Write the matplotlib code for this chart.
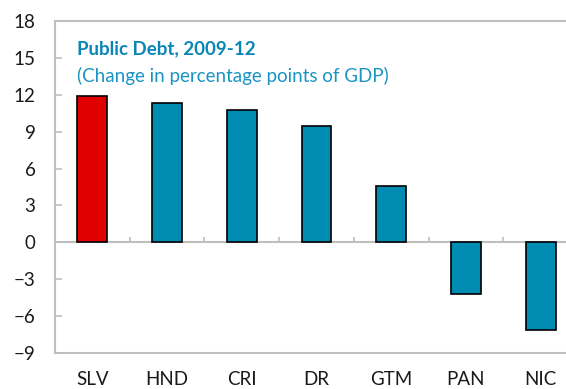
import numpy as np
import matplotlib
matplotlib.use("Agg")
import matplotlib.pyplot as plt

# Public debt change 2009-12, percentage points of GDP
countries = ["SLV", "HND", "CRI", "DR", "GTM", "PAN", "NIC"]
debt_change = [11.9, 11.3, 10.75, 9.5, 4.6, -4.2, -7.15]
highlight = "SLV"

plt.rcParams['font.family'] = ['Lato', 'DejaVu Sans']

teal = '#008BB2'
red = '#E00000'
grey = '#BFBFBF'

fig = plt.figure(figsize=(5.66, 3.89), dpi=100)
ax = fig.add_axes([0.0972, 0.0925, 0.9028, 0.8535])

x = np.arange(len(countries))
colors = [red if c == highlight else teal for c in countries]
ax.bar(x, debt_change, width=0.4, color=colors, edgecolor='black', linewidth=1.2, zorder=3)

ax.set_ylim(-9, 18)
ax.set_yticks(np.arange(-9, 19, 3))
ax.set_xlim(-0.5, 6.34)
ax.set_xticks(x)
ax.set_xticklabels(countries)

# zero line with category separators
ax.axhline(0, color=grey, lw=1.5, zorder=2)
ax.vlines(x[:-1] + 0.5, 0, 0.4, color=grey, lw=1.2, zorder=2)

for s in ['left', 'top', 'bottom']:
    ax.spines[s].set_color(grey)
    ax.spines[s].set_linewidth(1.5)
ax.spines['right'].set_visible(False)

ax.tick_params(axis='y', direction='in', length=5, width=1.2, color=grey,
               labelsize=13.5, pad=14, labelcolor='#1a1a1a')
ax.tick_params(axis='x', length=0, labelsize=13.5, pad=13, labelcolor='#1a1a1a')

ax.text(0.043, 0.915, "Public Debt, 2009-12", transform=ax.transAxes,
        color='#0A86B6', fontsize=13.5, fontweight='bold', va='center')
ax.text(0.043, 0.833, "(Change in percentage points of GDP)", transform=ax.transAxes,
        color='#1A95C2', fontsize=13.5, va='center')

fig.savefig("out.png", dpi=100)
